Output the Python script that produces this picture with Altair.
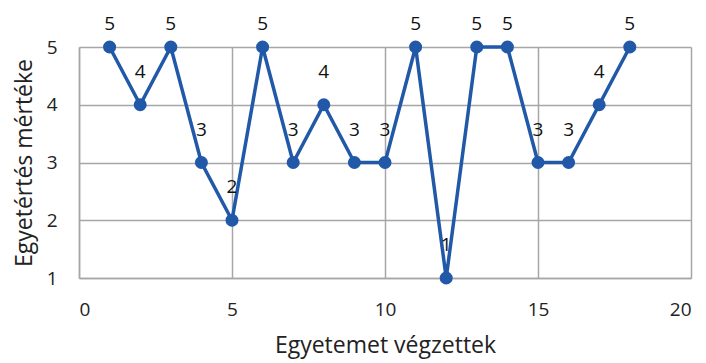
import altair as alt
import pandas as pd

x_vals = list(range(1, 19))
y_vals = [5, 4, 5, 3, 2, 5, 3, 4, 3, 3, 5, 1, 5, 5, 3, 3, 4, 5]

df = pd.DataFrame({"x": x_vals, "y": y_vals})

FONT = "Open Sans"
COLOR = "#2159A8"

base = alt.Chart(df).encode(
    x=alt.X("x:Q", scale=alt.Scale(domain=[0, 20], nice=False),
            axis=alt.Axis(values=[0, 5, 10, 15, 20], title="Egyetemet végzettek",
                          titleFontSize=23, titleFont=FONT, titleFontWeight="normal",
                          titleColor="#222", titlePadding=15,
                          labelFontSize=19, labelFont=FONT, labelColor="#222",
                          labelPadding=22, ticks=False, grid=True,
                          gridColor="#A6A6A6", gridWidth=1.5,
                          domainColor="#A6A6A6", domainWidth=1.5)),
    y=alt.Y("y:Q", scale=alt.Scale(domain=[1, 5], nice=False),
            axis=alt.Axis(values=[1, 2, 3, 4, 5], title="Egyetértés mértéke",
                          titleFontSize=23, titleFont=FONT, titleFontWeight="normal",
                          titleColor="#222", titlePadding=10,
                          labelFontSize=19, labelFont=FONT, labelColor="#222",
                          labelPadding=22, ticks=False, grid=True,
                          gridColor="#A6A6A6", gridWidth=1.5,
                          domainColor="#A6A6A6", domainWidth=1.5)),
)

line = base.mark_line(color=COLOR, strokeWidth=3.5)
pts = base.mark_point(filled=True, color=COLOR, size=170, opacity=1)
labels_top = base.transform_filter("datum.y == 5").mark_text(
    dy=-23, fontSize=19, font=FONT, color="#111").encode(text="y:Q")
labels_rest = base.transform_filter("datum.y < 5").mark_text(
    dy=-33, fontSize=19, font=FONT, color="#111").encode(text="y:Q")

chart = (line + pts + labels_top + labels_rest).properties(
    width=612, height=231,
    autosize=alt.AutoSizeParams(type="none"),
    padding={"left": 71, "top": 39, "right": 7, "bottom": 85},
).configure_view(stroke=None)

chart.save("out.html", embed_options={"renderer": "svg", "actions": False})
